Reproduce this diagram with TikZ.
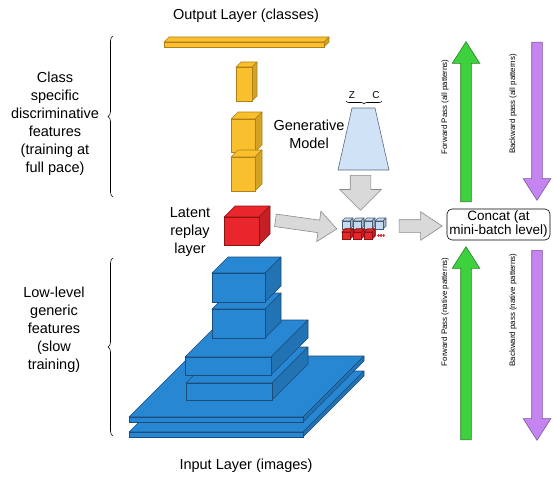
\documentclass[tikz,border=0pt]{standalone}
\usepackage{fontspec}
\setmainfont{Liberation Sans}
\usetikzlibrary{shapes.arrows,decorations.pathreplacing,positioning}
\definecolor{layerblue}{HTML}{2787D3}
\definecolor{blueedge}{HTML}{1B4C7C}
\definecolor{layeryellow}{HTML}{F9BF2C}
\definecolor{yellowedge}{HTML}{B08018}
\definecolor{layerred}{HTML}{E8262B}
\definecolor{rededge}{HTML}{8E1414}
\definecolor{minibluefill}{HTML}{C4DAF0}
\definecolor{miniedge}{HTML}{4A5A70}
\definecolor{genfill}{HTML}{CFE2F6}
\definecolor{genedge}{HTML}{5A6A80}
\definecolor{arrowfill}{HTML}{D9D9D9}
\definecolor{arrowedge}{HTML}{8A8A8A}
\definecolor{fwdfill}{HTML}{3DD13D}
\definecolor{fwdedge}{HTML}{2A7F2A}
\definecolor{bwdfill}{HTML}{C585F0}
\definecolor{bwdedge}{HTML}{7C55A0}
\tikzset{
lbl/.style={align=center, inner sep=0, font=\fontsize{14.5}{18}\selectfont},
passlbl/.style={inner sep=0, font=\fontsize{7.9}{9}\selectfont},
sidebrace/.style={decorate, decoration={brace, amplitude=#1}, line width=0.6pt},
sidebrace/.default=5pt,
grayarrow/.style={single arrow, draw=arrowedge, fill=arrowfill, inner xsep=0,
    inner ysep=6, line width=0.6pt},
fwdarrow/.style={single arrow, draw=fwdedge, fill=fwdfill, inner xsep=0, inner ysep=5,
    line width=0.6pt, single arrow head extend=8.5, single arrow tip angle=65},
bwdarrow/.style={fwdarrow, draw=bwdedge, fill=bwdfill},
genshape/.style={draw=genedge, fill=genfill, line width=0.6pt, line join=round},
concatbox/.style={draw, rounded corners=5pt, align=center, line width=0.6pt, inner sep=0,
    font=\fontsize{13.5}{14}\selectfont}
}
% x, y, width, height, depth, fill, edge
\newcommand\cuboid[7]{%
  \draw[draw=#7, fill=#6, line width=0.6pt, line join=round]
    (#1,#2) -- ++(#5,-#5) -- ++(#3,0) -- ++(-#5,#5) -- cycle;
  \draw[draw=#7, fill=#6!85!black, line width=0.6pt, line join=round]
    (#1+#3,#2) -- ++(#5,-#5) -- ++(0,#4) -- ++(-#5,#5) -- cycle;
  \draw[draw=#7, fill=#6, line width=0.6pt] (#1,#2) rectangle ++(#3,#4);
}

\begin{document}
\begin{tikzpicture}[x=1pt, y=-1pt]
\useasboundingbox (0,0) rectangle (553,476);

% upper layers
\cuboid{164}{42}{160}{5}{5}{layeryellow}{yellowedge}
\cuboid{236}{67}{16}{34}{5}{layeryellow}{yellowedge}
\cuboid{231}{119}{24}{33}{7}{layeryellow}{yellowedge}
\cuboid{231}{157}{24}{34}{7}{layeryellow}{yellowedge}
\cuboid{224}{217}{35}{28}{11}{layerred}{rededge}

% lower layers
\cuboid{129}{432}{174}{5}{61}{layerblue}{blueedge}
\cuboid{129}{417}{174}{5}{61}{layerblue}{blueedge}
\cuboid{186}{383}{86}{17}{36}{layerblue}{blueedge}
\cuboid{185}{357}{86}{18}{37}{layerblue}{blueedge}
\cuboid{212}{309}{53}{29}{16}{layerblue}{blueedge}
\cuboid{212}{273}{53}{29}{16}{layerblue}{blueedge}

\node[lbl] (outtxt) at (246,16) {Output Layer (classes)};
\node[lbl] (intxt) at (246,466) {Input Layer (images)};
\node[lbl] (classtxt) at (55,124) {Class\\specific\\discriminative\\features\\(training at\\full pace)};
\node[lbl] (lowtxt) at (54,330) {Low-level\\generic\\features\\(slow\\training)};
\node[lbl] (latenttxt) at (190,232) {Latent\\replay\\layer};
\draw[sidebrace] (113,197) -- (113,36);
\draw[sidebrace] (113,436) -- (113,258);

% generative model
\draw[genshape] (352,108) -- (375,108) -- (389,170) -- (338,170) -- cycle;
\coordinate (gen) at (363.5,170);
\node[lbl] (gentxt) at (309,134) {Generative\\Model};
\draw[sidebrace=3pt] (382,101) -- (346,101);
\node[passlbl, font=\fontsize{10}{10}\selectfont] (ztxt) at (352,95) {Z};
\node[passlbl, font=\fontsize{10}{10}\selectfont] (ctxt) at (376,95) {C};

% mini-batch
\node[inner sep=0, minimum width=45, minimum height=22] (mb) at (364,229) {};
\foreach \i in {0,1,2,3}
  \cuboid{342+11*\i}{221}{8}{8}{3}{minibluefill}{miniedge}
\foreach \i in {0,1,2}
  \cuboid{342+11*\i}{232}{8}{7}{3}{layerred}{rededge}
\foreach \i in {0,1,2}
  \fill[layerred] (378.5+2.6*\i,235.5) circle (0.9);

\node[concatbox, minimum width=103, minimum height=31] (concat) at (498.5,224.5)
  {Concat (at\\mini-batch level)};

\node[grayarrow, inner ysep=10, minimum height=35, single arrow head extend=10.5,
  rotate=-90, anchor=tail] (genarrow) at ([xshift=-3pt,yshift=-5pt]gen) {};
\node[grayarrow, minimum height=62, single arrow head extend=9,
  single arrow tip angle=80, rotate=-8, anchor=tip] (latarrow) at ([xshift=-4pt]mb.west) {};
\node[grayarrow, minimum height=43, single arrow head extend=8,
  single arrow tip angle=67, anchor=tip] (catarrow) at ([xshift=-4pt,yshift=-1.5pt]concat.west) {};

% passes
\node[fwdarrow, minimum height=160, rotate=90, anchor=tail] (fwdall) at (466,202) {};
\node[fwdarrow, minimum height=193, rotate=90, anchor=tail] (fwdnat) at (466,440) {};
\node[bwdarrow, minimum height=158, rotate=-90, anchor=tail] (bwdall) at (537,42) {};
\node[bwdarrow, minimum height=190, rotate=-90, anchor=tail] (bwdnat) at (537,250) {};
\node[passlbl, rotate=90] (fwdalltxt) at (445,107) {Forward Pass (all patterns)};
\node[passlbl, rotate=90] (bwdalltxt) at (513,104) {Backward pass (all patterns)};
\node[passlbl, rotate=90] (fwdnattxt) at (445,312) {Forward Pass (native patterns)};
\node[passlbl, rotate=90] (bwdnattxt) at (513,310) {Backward pass (native patterns)};
\end{tikzpicture}
\end{document}
